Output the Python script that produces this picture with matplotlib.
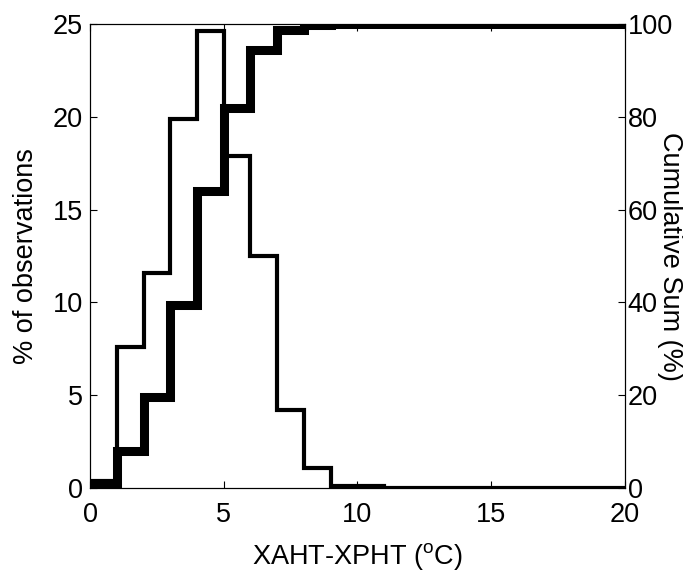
import numpy as np
import matplotlib
matplotlib.use("Agg")
import matplotlib.pyplot as plt

plt.rcParams['font.family'] = ['Liberation Sans', 'DejaVu Sans']
plt.rcParams['mathtext.fontset'] = 'custom'
plt.rcParams['mathtext.rm'] = 'Liberation Sans'
plt.rcParams['mathtext.it'] = 'Liberation Sans'

# Histogram of XAHT-XPHT differences, 1 degree bins from 0 to 20
bin_edges = list(range(0, 21))
pct_obs = [0.4, 7.6, 11.6, 19.9, 24.6, 17.9, 12.5, 4.2, 1.1, 0.1, 0.1,
           0, 0, 0, 0, 0, 0, 0, 0, 0]
cum_pct = np.cumsum(pct_obs)
cum_pct = np.minimum(cum_pct / cum_pct[-1] * 100.0, 100.0)

x_ticks = [0, 5, 10, 15, 20]
left_ticks = [0, 5, 10, 15, 20, 25]
right_ticks = [0, 20, 40, 60, 80, 100]

fig = plt.figure(figsize=(6.83, 5.72), dpi=100)
ax = fig.add_axes([0.1318, 0.1469, 0.7832, 0.8111])
ax2 = ax.twinx()

ax.stairs(pct_obs, bin_edges, color='black', linewidth=3.0, baseline=None)
ax2.stairs(cum_pct, bin_edges, color='black', linewidth=6.5, baseline=None)

ax.set_xlim(0, 20)
ax.set_ylim(0, 25)
ax2.set_ylim(0, 100)
ax.set_xticks(x_ticks)
ax.set_yticks(left_ticks)
ax2.set_yticks(right_ticks)

fs = 19.5
ax.tick_params(axis='x', direction='in', top=True, bottom=True, length=5,
               width=0.8, labelsize=fs, pad=10)
ax.tick_params(axis='y', direction='in', left=True, right=False, length=5,
               width=0.8, labelsize=fs, pad=5)
ax2.tick_params(axis='y', direction='in', right=True, left=False, length=5,
                width=0.8, labelsize=fs, pad=2)
for a in (ax, ax2):
    for s in a.spines.values():
        s.set_linewidth(0.8)

ax.set_xlabel(r'XAHT-XPHT ($\mathrm{^{o}}$C)', fontsize=fs, va='center')
ax.xaxis.set_label_coords(0.5, -0.148)
ax.set_ylabel('% of observations', fontsize=fs, va='center')
ax.yaxis.set_label_coords(-0.12, 0.5)
ax2.set_ylabel('Cumulative Sum (%)', fontsize=fs, rotation=270,
               va='center', ha='center')
ax2.yaxis.set_label_coords(1.084, 0.5)

fig.savefig('out.png', dpi=100)
